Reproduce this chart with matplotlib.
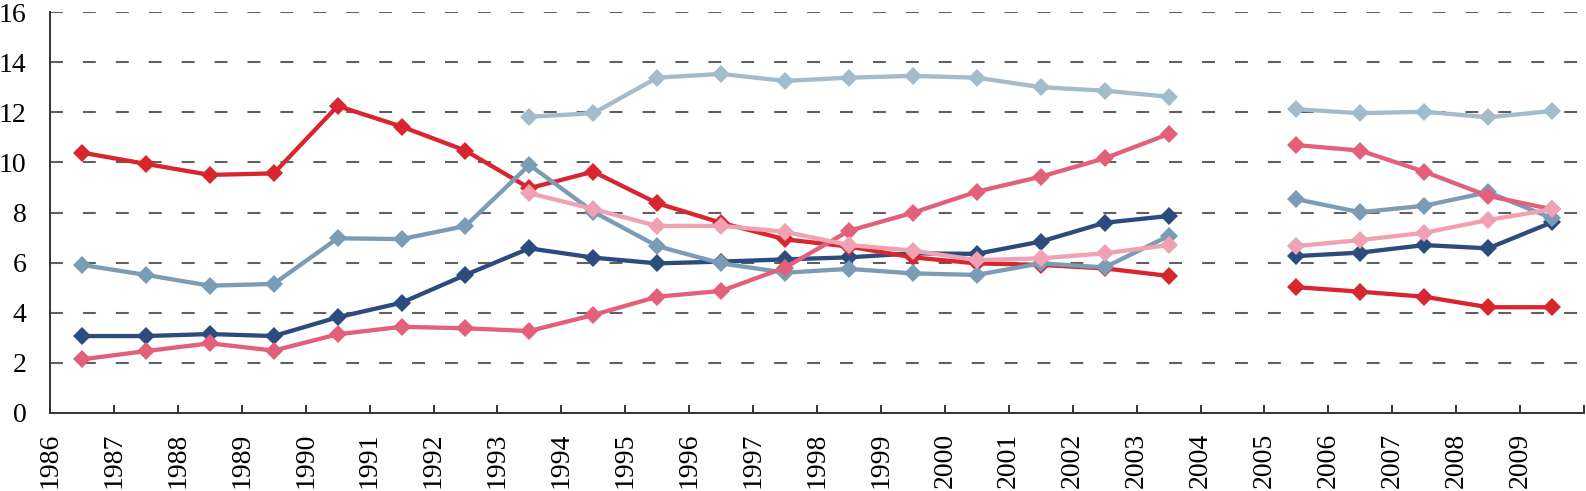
import numpy as np
import matplotlib.pyplot as plt

years = list(range(1986, 2010))
nan = np.nan

# values per year, 2004 missing
red = [10.39, 9.94, 9.50, 9.56, 12.25, 11.43, 10.47, 8.97, 9.63, 8.37, 7.59, 6.93,
       6.64, 6.21, 5.97, 5.91, 5.77, 5.47, nan, 5.02, 4.84, 4.64, 4.22, 4.22]
light_blue = [nan, nan, nan, nan, nan, nan, nan, 11.82, 11.96, 13.38, 13.53, 13.25,
              13.38, 13.45, 13.38, 13.00, 12.86, 12.62, nan, 12.12, 11.96, 12.02, 11.80, 12.05]
steel = [5.91, 5.51, 5.08, 5.15, 6.97, 6.94, 7.46, 9.90, 8.03, 6.66, 5.97, 5.60,
         5.75, 5.57, 5.51, 5.97, 5.81, 7.06, nan, 8.53, 8.01, 8.27, 8.81, 7.77]
navy = [3.07, 3.07, 3.15, 3.07, 3.82, 4.40, 5.51, 6.57, 6.20, 5.97, 6.04, 6.13,
        6.21, 6.37, 6.35, 6.84, 7.59, 7.86, nan, 6.26, 6.40, 6.70, 6.57, 7.61]
pink_red = [2.14, 2.47, 2.78, 2.49, 3.14, 3.44, 3.38, 3.27, 3.91, 4.64, 4.87, 5.80,
            7.27, 7.99, 8.83, 9.43, 10.16, 11.13, nan, 10.69, 10.47, 9.63, 8.66, 8.13]
light_pink = [nan, nan, nan, nan, nan, nan, nan, 8.77, 8.14, 7.46, 7.47, 7.23,
              6.70, 6.48, 6.10, 6.17, 6.37, 6.70, nan, 6.66, 6.90, 7.19, 7.70, 8.13]

series = [
    (navy, '#2c4c7e'),
    (red, '#d7262f'),
    (steel, '#7a9cb4'),
    (light_blue, '#a3bccb'),
    (pink_red, '#e2607a'),
    (light_pink, '#f0a1b2'),
]

plt.rcParams['font.family'] = ['Liberation Serif', 'DejaVu Serif']

fig = plt.figure(figsize=(15.86, 4.91), dpi=100)
ax = fig.add_axes([50 / 1586, 78 / 491, 1534 / 1586, 401 / 491])

x = np.arange(len(years)) + 0.5
for values, color in series:
    ax.plot(x, values, color=color, lw=3.1, marker='D', ms=9.5,
            markeredgewidth=0, zorder=3)

ax.set_xlim(0, len(years))
ax.set_ylim(0, 16)
ax.set_yticks(range(0, 17, 2))
ax.set_xticks(np.arange(len(years) + 1))
ax.set_xticklabels([str(y) for y in years] + [''], rotation=90)

for v in range(2, 17, 2):
    ax.axhline(v, color='#606060', lw=1.5, linestyle=(0, (6.2, 9.6)), zorder=1)

for side in ['top', 'right']:
    ax.spines[side].set_visible(False)
for side in ['left', 'bottom']:
    ax.spines[side].set_color('#333333')
    ax.spines[side].set_linewidth(1.4)
ax.spines['left'].set_zorder(4)

ax.tick_params(axis='y', length=0, pad=17, labelsize=20)
ax.tick_params(axis='x', direction='in', length=6, width=1.4, color='#333333',
               pad=14, labelsize=20)

fig.savefig('out.png', dpi=100)
